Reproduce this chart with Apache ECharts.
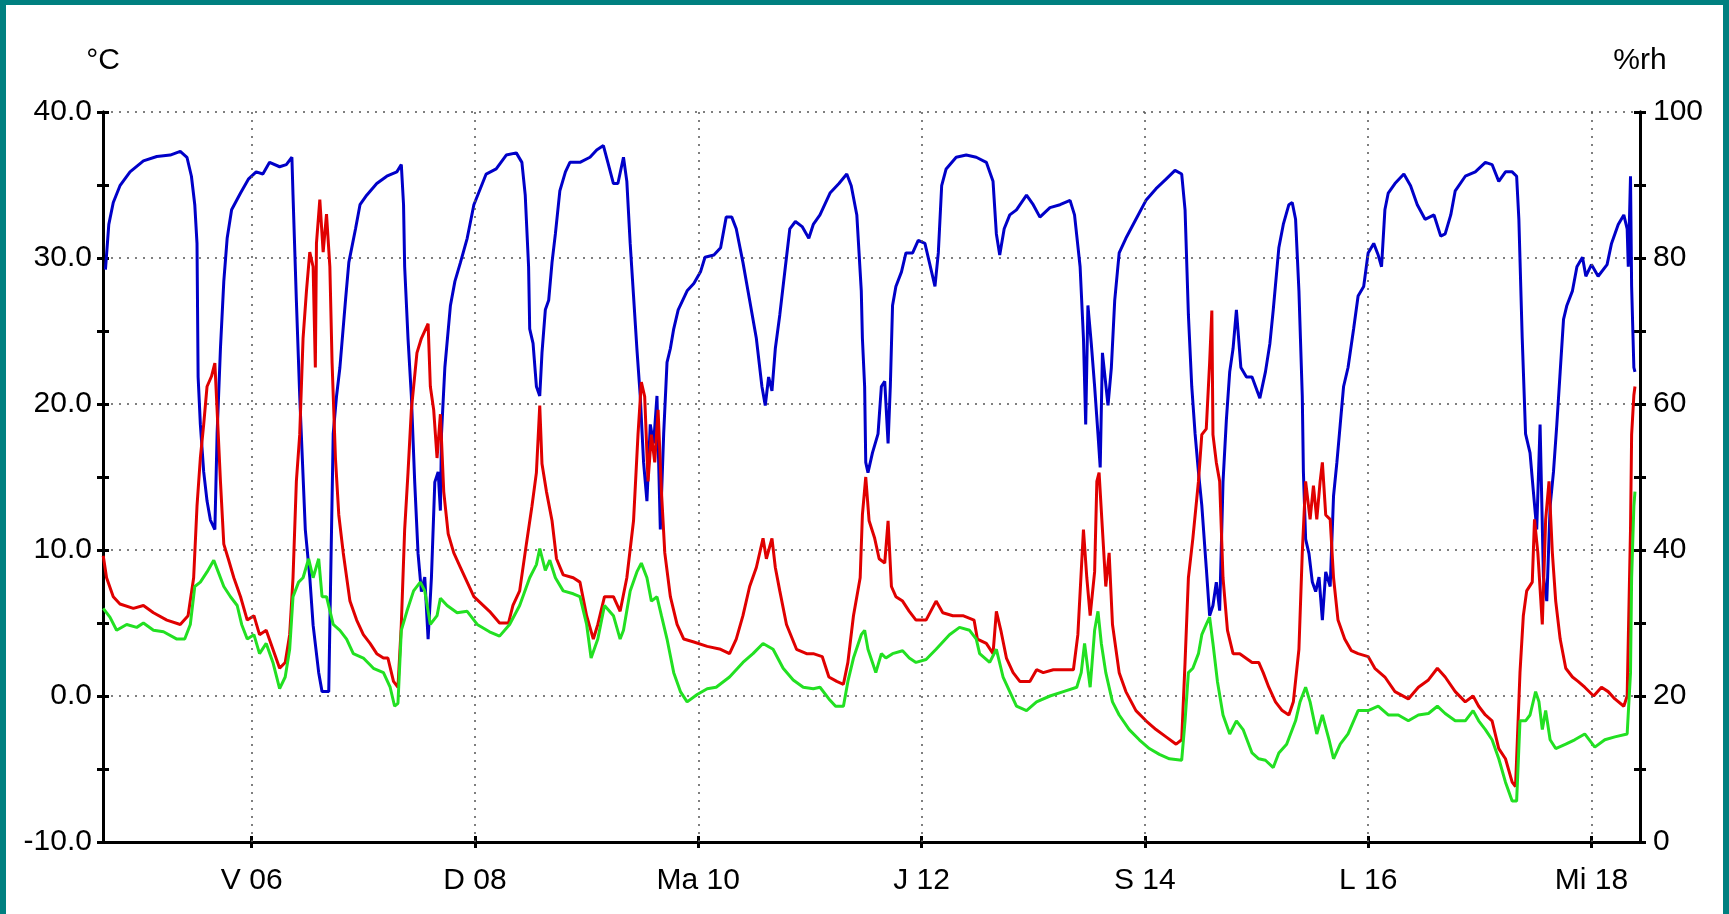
<!DOCTYPE html>
<html>
<head>
<meta charset="utf-8">
<script src="https://cdn.jsdelivr.net/npm/echarts@6/dist/echarts.min.js"></script>
<style>
  html, body { margin: 0; padding: 0; background: #008080; }
  #frame { position: absolute; left: 6px; top: 5px; width: 1717px; height: 909px; background: #ffffff; }
  #chart { position: absolute; left: 0; top: 0; width: 1729px; height: 914px; }
</style>
</head>
<body>
<div id="frame"></div>
<div id="chart"></div>
<script>
// ---- tick labels (x = day of month) ----
const dayTicks = [6, 8, 10, 12, 14, 16, 18];
const dayLabels = ['V 06', 'D 08', 'Ma 10', 'J 12', 'S 14', 'L 16', 'Mi 18'];

// ---- relative humidity (%rh, blue) ----
const rhT = [4.69,4.72,4.76,4.82,4.91,5.03,5.15,5.27,5.36,5.42,5.46,5.49,5.51,5.52,5.54,5.57,5.60,5.63,5.67,5.69,5.72,5.75,5.78,5.82,5.90,5.97,6.04,6.10,6.16,6.25,6.31,6.36,6.37,6.40,6.43,6.48,6.52,6.55,6.60,6.63,6.69,6.70,6.73,6.76,6.79,6.84,6.87,6.93,6.97,7.03,7.12,7.21,7.30,7.34,7.36,7.37,7.40,7.43,7.46,7.49,7.52,7.55,7.58,7.61,7.64,7.67,7.69,7.70,7.73,7.78,7.82,7.87,7.93,7.99,
  8.10,8.19,8.28,8.37,8.42,8.45,8.48,8.49,8.52,8.55,8.58,8.60,8.63,8.66,8.69,8.72,8.76,8.81,8.85,8.94,9.03,9.09,9.15,9.19,9.24,9.28,9.33,9.36,9.39,9.42,9.45,9.48,9.51,9.54,9.57,9.60,9.63,9.66,9.69,9.72,9.75,9.78,9.82,9.90,9.96,10.02,10.06,10.14,10.20,10.25,10.30,10.34,10.40,10.46,10.52,10.57,10.60,10.63,10.66,10.69,10.73,10.78,10.82,10.87,10.93,10.99,11.03,11.09,11.18,11.26,11.33,11.37,11.42,11.46,
  11.47,11.49,11.50,11.52,11.56,11.61,11.64,11.67,11.70,11.72,11.74,11.77,11.82,11.86,11.92,11.97,12.03,12.07,12.12,12.15,12.18,12.22,12.31,12.40,12.49,12.58,12.64,12.67,12.70,12.74,12.79,12.85,12.94,13.00,13.06,13.15,13.24,13.33,13.37,13.42,13.45,13.47,13.49,13.52,13.55,13.58,13.60,13.62,13.67,13.70,13.73,13.77,13.83,13.92,14.01,14.10,14.19,14.27,14.33,14.36,14.39,14.42,14.45,14.48,14.51,14.55,14.58,14.61,14.64,14.67,14.70,14.73,14.76,14.79,14.82,14.86,14.91,
  14.96,15.03,15.08,15.12,15.15,15.20,15.24,15.29,15.32,15.35,15.38,15.41,15.42,15.44,15.47,15.50,15.53,15.56,15.59,15.62,15.66,15.69,15.72,15.75,15.78,15.82,15.87,15.91,15.96,16.00,16.05,16.09,16.12,16.15,16.18,16.24,16.32,16.38,16.44,16.51,16.59,16.65,16.69,16.74,16.78,16.87,16.96,17.05,17.11,17.17,17.23,17.29,17.33,17.35,17.38,17.41,17.45,17.48,17.51,17.54,17.57,17.60,17.63,17.66,17.69,17.72,17.75,17.78,17.83,17.87,17.92,17.95,18.00,18.06,18.14,18.18,18.24,18.29,18.32,18.33,18.35,18.36,18.38,18.39];
const rhV = [78.4,84.6,87.6,89.9,91.8,93.3,93.9,94.1,94.6,93.8,91.2,87.3,82,63.7,57.2,50.7,46.7,44.1,42.8,55.9,67.6,76.8,82.7,86.6,88.9,90.8,91.8,91.5,93.1,92.5,92.8,93.8,88.6,74.2,61.1,42.8,36.3,29.7,23.2,20.6,20.6,29.7,55.9,61.1,65,74.2,79.4,84,87.3,88.6,90.2,91.2,91.8,92.8,87.3,78.8,69,61.1,49.3,39.5,34.3,36.3,27.8,36.3,49.3,50.7,45.4,55.9,65,73.5,76.8,79.4,82.7,87.3,
  91.5,92.2,94.1,94.4,93.1,88.6,78.8,70.3,68.3,62.4,61.1,67,72.9,74.2,79.4,83.3,89.2,91.8,93.1,93.1,93.8,94.8,95.4,93.1,90.2,90.2,93.8,90.5,82,74.8,67.6,61.1,52,46.7,57.2,54.6,61.1,42.8,55.9,65.7,67.6,70.3,72.9,75.5,76.5,78.1,80.1,80.4,81.4,85.6,85.6,84,79.4,74.2,69,62.4,59.8,63.7,61.8,67.6,72.2,78.8,84,85,84.3,82.7,84.6,85.9,88.9,90.2,91.5,89.9,85.9,75.5,
  69,62.4,52,50.6,53.3,55.9,62.4,63.1,54.6,62.4,73.5,76.1,78.1,80.7,80.7,82.4,82,79.4,76.1,80.7,89.9,92.2,93.8,94.1,93.8,93.1,90.5,83.3,80.4,84,85.9,86.6,88.6,87.3,85.6,86.9,87.3,87.9,85.9,78.8,69,57.2,73.5,68.3,62.4,55.9,51.3,67,59.8,65,74.2,80.7,82.7,85.3,87.9,89.5,90.8,92,91.5,86.6,72.2,62.4,55.9,50.7,46.1,37.6,31,32.4,35.6,31.7,49.3,57.8,64.4,67.6,72.9,65,63.7,
  63.7,60.8,64.4,68.3,72.9,81.4,84.6,87.3,87.6,85.3,75.5,61.1,50.7,41.5,39.5,35.6,34.3,36.3,30.4,37,35,47.4,52,57.2,62.4,65,70.3,74.8,76.1,80.7,82,80.4,78.8,86.6,88.9,90.2,91.5,89.9,87.3,85.3,85.9,83,83.3,85.9,89.2,91.2,91.8,93.1,92.8,90.5,91.8,91.8,91.2,85.3,69,55.9,53.3,48,42.8,57.2,36.3,33,46,50.7,57.2,64.4,71.6,73.5,75.5,78.8,80.1,77.5,79.1,77.5,79.1,82,84.6,85.9,84,78.8,91.2,76.1,65,64.4];

// ---- temperature (°C, red) ----
const tempT = [4.67,4.70,4.76,4.82,4.94,5.03,5.12,5.24,5.36,5.43,5.48,5.51,5.54,5.57,5.60,5.64,5.67,5.69,5.72,5.75,5.79,5.84,5.90,5.96,6.02,6.07,6.13,6.19,6.25,6.30,6.34,6.37,6.40,6.43,6.46,6.49,6.52,6.55,6.57,6.58,6.61,6.64,6.67,6.70,6.72,6.75,6.78,6.82,6.88,6.94,7.00,7.06,7.12,7.18,7.22,7.27,7.31,7.34,7.37,7.40,7.43,7.48,7.52,7.58,7.60,7.63,7.66,7.69,7.72,7.76,7.81,7.87,7.93,7.99,
  8.13,8.22,8.30,8.34,8.40,8.46,8.51,8.55,8.58,8.60,8.64,8.69,8.73,8.79,8.88,8.94,9.00,9.06,9.10,9.16,9.24,9.30,9.36,9.42,9.46,9.49,9.52,9.55,9.58,9.61,9.64,9.67,9.70,9.75,9.81,9.87,9.96,10.08,10.20,10.28,10.34,10.40,10.46,10.52,10.58,10.61,10.66,10.69,10.73,10.79,10.88,10.97,11.03,11.11,11.17,11.24,11.30,11.34,11.39,11.45,
  11.47,11.50,11.53,11.58,11.62,11.67,11.70,11.73,11.77,11.83,11.89,11.95,12.04,12.13,12.19,12.28,12.37,12.47,12.50,12.58,12.64,12.67,12.71,12.76,12.82,12.88,12.97,13.03,13.09,13.18,13.36,13.40,13.45,13.48,13.51,13.55,13.57,13.59,13.62,13.65,13.68,13.71,13.77,13.83,13.92,14.01,14.10,14.19,14.28,14.33,14.36,14.39,14.43,14.48,14.51,14.55,14.58,14.60,14.61,14.64,14.67,14.70,14.74,14.79,14.85,
  14.96,15.02,15.06,15.11,15.17,15.23,15.29,15.33,15.38,15.41,15.44,15.48,15.51,15.54,15.57,15.59,15.62,15.66,15.69,15.73,15.79,15.85,15.91,16.00,16.06,16.15,16.24,16.36,16.45,16.54,16.62,16.69,16.78,16.87,16.94,16.99,17.05,17.11,17.17,17.23,17.29,17.32,17.33,17.36,17.39,17.42,17.47,17.49,17.52,17.56,17.59,17.62,17.65,17.68,17.72,17.77,17.83,17.88,17.94,18.02,18.09,18.15,18.21,18.29,18.32,18.35,18.36,18.38,18.39];
const tempV = [9.6,8.1,6.8,6.3,6.0,6.2,5.7,5.2,4.9,5.5,8.1,13,16.3,18.6,21.2,21.9,22.8,19.6,14.7,10.4,9.4,8.1,6.8,5.2,5.5,4.2,4.5,3.2,1.9,2.3,4.2,8.1,14.7,17.9,24.5,27.7,30.4,29.4,22.5,31,34,30.4,33,29.4,22.8,16.3,12.4,9.8,6.5,5.2,4.2,3.6,2.9,2.6,2.6,1,0.6,4.9,11.4,15.3,19.6,23.5,24.5,25.5,21.2,19.6,16.3,19.3,14,11.1,9.8,8.8,7.8,6.8,
  5.8,5.0,5.0,6.2,7.2,10.4,13,15.3,19.9,15.9,14,12,9.4,8.3,8.1,7.8,5.5,3.9,4.9,6.8,6.8,5.8,8.1,12,17.9,21.5,20.5,14.7,17.9,16,19.6,14,9.8,6.8,4.9,3.9,3.7,3.4,3.2,2.9,3.9,5.5,7.5,8.8,10.8,9.4,10.8,8.8,7.2,4.9,3.2,2.9,2.9,2.7,1.3,1,0.8,2.3,5.5,8.1,
  12.4,15,12,10.8,9.4,9.1,12,7.5,6.8,6.5,5.8,5.2,5.2,6.5,5.7,5.5,5.5,5.2,3.9,3.6,2.9,5.8,4.5,2.6,1.6,1,1,1.8,1.6,1.8,1.8,4.2,11.4,8.1,5.5,8.5,14.7,15.3,11.4,7.5,9.8,4.9,1.6,0.3,-1,-1.7,-2.3,-2.8,-3.3,-3,2.3,8.1,10.8,14.7,17.9,18.3,22.8,26.4,17.9,16,14.7,8.1,4.5,2.9,2.9,
  2.3,2.3,1.6,0.6,-0.4,-1,-1.3,-0.4,3.2,9.8,14.7,12.1,14.4,12.1,14.7,16,12.4,12.1,8.1,5.2,3.9,3.1,2.9,2.7,1.9,1.3,0.3,-0.2,0.6,1.1,1.9,1.3,0.3,-0.4,0,-0.7,-1.3,-1.7,-3.6,-4.3,-5.9,-6.2,-4.3,1.6,5.5,7.2,7.8,12.1,9.8,4.9,12.1,14.7,9.8,6.5,3.9,1.9,1.3,1,0.6,0,0.6,0.3,-0.2,-0.7,0,11.4,17.9,20.6,21.2];

// ---- dew point (°C, green) ----
const dewT = [4.67,4.73,4.79,4.88,4.97,5.03,5.12,5.21,5.33,5.40,5.45,5.49,5.54,5.60,5.66,5.70,5.75,5.81,5.87,5.91,5.96,6.02,6.07,6.13,6.19,6.25,6.30,6.34,6.37,6.42,6.46,6.51,6.55,6.60,6.63,6.67,6.73,6.79,6.85,6.91,7.00,7.09,7.18,7.24,7.28,7.31,7.34,7.39,7.45,7.51,7.55,7.60,7.66,7.69,7.75,7.84,7.93,8.02,
  8.13,8.22,8.31,8.40,8.49,8.55,8.58,8.63,8.67,8.72,8.79,8.88,8.94,9.00,9.04,9.10,9.16,9.24,9.30,9.33,9.39,9.45,9.49,9.54,9.58,9.63,9.67,9.72,9.78,9.84,9.90,9.99,10.08,10.16,10.28,10.40,10.49,10.58,10.67,10.76,10.85,10.94,11.03,11.09,11.17,11.23,11.30,11.34,11.39,11.46,
  11.49,11.52,11.56,11.59,11.64,11.68,11.74,11.83,11.89,11.95,12.04,12.13,12.25,12.34,12.43,12.49,12.52,12.61,12.67,12.73,12.79,12.85,12.94,13.03,13.15,13.27,13.39,13.43,13.46,13.51,13.55,13.58,13.61,13.65,13.71,13.77,13.86,13.95,14.04,14.13,14.22,14.33,14.36,14.39,14.43,14.48,14.51,14.55,14.58,14.61,14.65,14.70,14.76,14.82,14.88,
  14.96,15.02,15.08,15.15,15.20,15.27,15.35,15.39,15.44,15.48,15.54,15.59,15.65,15.69,15.75,15.82,15.91,16.00,16.09,16.18,16.27,16.36,16.45,16.54,16.62,16.69,16.78,16.87,16.94,16.99,17.05,17.11,17.17,17.23,17.29,17.33,17.36,17.41,17.45,17.50,17.53,17.56,17.59,17.63,17.68,17.77,17.85,17.94,18.03,18.12,18.21,18.32,18.35,18.36,18.38,18.39];
const dewV = [6.0,5.4,4.5,4.9,4.7,5.0,4.5,4.4,3.9,3.9,4.9,7.5,7.8,8.5,9.3,8.5,7.5,6.8,6.2,4.9,3.9,4.2,2.9,3.6,2.3,0.5,1.3,3.2,6.8,7.8,8.1,9.4,8.1,9.4,6.8,6.8,4.9,4.5,3.9,2.9,2.6,1.9,1.6,0.6,-0.7,-0.5,4.5,5.8,7.2,7.8,7.2,4.9,5.5,6.7,6.2,5.7,5.8,4.9,
  4.4,4.1,4.9,6.2,8.1,9.0,10.1,8.6,9.3,8.1,7.2,7,6.8,4.9,2.6,3.9,6.2,5.5,3.9,4.5,7.2,8.5,9.1,8.1,6.5,6.8,5.5,3.9,1.6,0.3,-0.4,0.1,0.5,0.6,1.3,2.3,2.9,3.6,3.2,1.9,1.1,0.6,0.5,0.6,-0.2,-0.7,-0.7,1,2.6,4.2,
  4.5,3.2,2.3,1.6,2.9,2.6,2.9,3.1,2.6,2.3,2.5,3.2,4.2,4.7,4.5,3.9,2.9,2.3,3.2,1.3,0.3,-0.7,-1,-0.4,0,0.3,0.6,1.6,3.6,0.6,4.5,5.8,3.6,1.6,-0.4,-1.3,-2.3,-3,-3.6,-4,-4.3,-4.4,-1.7,1.6,1.9,2.9,4.2,4.9,5.4,3.6,1,-1.3,-2.6,-1.7,-2.3,
  -3.9,-4.3,-4.4,-4.9,-3.9,-3.3,-1.7,-0.4,0.6,-0.4,-2.6,-1.3,-3,-4.3,-3.3,-2.6,-1,-1,-0.7,-1.3,-1.3,-1.7,-1.3,-1.2,-0.7,-1.2,-1.7,-1.7,-1,-1.7,-2.3,-3,-4.3,-5.9,-7.2,-7.2,-1.7,-1.7,-1.3,0.3,-0.4,-2.3,-1,-3,-3.6,-3.3,-3,-2.6,-3.5,-3,-2.8,-2.6,1.6,8.1,13,14];

const pairs = (t, v) => t.map((x, i) => [x, v[i]]);

const FONT = 'Liberation Sans, Arial, sans-serif';
const AXIS_COLOR = '#000000';
const dotted = { type: [2, 6], color: '#555555', width: 1.5 };

function yAxisBase(pos, min, max, inside, withLabels, fmt) {
  return {
    type: 'value', position: pos, min: min, max: max, interval: (max - min) / 5,
    axisLine: { show: true, onZero: false, lineStyle: { color: AXIS_COLOR, width: 3 } },
    axisTick: { show: true, inside: inside, length: 6, lineStyle: { color: AXIS_COLOR, width: 3 } },
    minorTick: { show: true, splitNumber: 2, length: 6, lineStyle: { color: AXIS_COLOR, width: 3 } },
    axisLabel: { show: withLabels, color: '#000', fontFamily: FONT, fontSize: 30, margin: 11, formatter: fmt },
    splitLine: { show: false }
  };
}

const nameStyle = { color: '#000', fontFamily: FONT, fontSize: 30, align: 'center' };

const yLeft = yAxisBase('left', -10, 40, false, true, v => v.toFixed(1));
yLeft.name = '°C';
yLeft.nameLocation = 'end';
yLeft.nameGap = 36;
yLeft.nameTextStyle = nameStyle;
yLeft.splitLine = { show: true, lineStyle: dotted };

const yRight = yAxisBase('right', 0, 100, false, true, v => String(v));
yRight.axisLabel.margin = 13;
yRight.name = '%rh';
yRight.nameLocation = 'end';
yRight.nameGap = 36;
yRight.nameTextStyle = nameStyle;

const yLeftIn = yAxisBase('left', -10, 40, true, false, null);
const yRightIn = yAxisBase('right', 0, 100, true, false, null);

function xAxisBase(inside, withLabels) {
  return {
    type: 'value', position: 'bottom', min: 4.668, max: 18.435,
    axisLine: { show: true, onZero: false, lineStyle: { color: AXIS_COLOR, width: 3 } },
    axisTick: { show: true, inside: inside, length: 6, customValues: dayTicks, lineStyle: { color: AXIS_COLOR, width: 3 } },
    axisLabel: {
      show: withLabels, customValues: dayTicks, color: '#000', fontFamily: FONT, fontSize: 30, margin: 24,
      formatter: v => { const i = dayTicks.indexOf(Math.round(v)); return i >= 0 ? dayLabels[i] : ''; }
    },
    splitLine: { show: false }
  };
}

const chart = echarts.init(document.getElementById('chart'), null, { renderer: 'canvas' });
chart.setOption({
  backgroundColor: 'transparent',
  animation: false,
  grid: { left: 103, right: 89, top: 112, bottom: 72, containLabel: false },
  xAxis: [xAxisBase(false, true), xAxisBase(true, false)],
  yAxis: [yLeft, yRight, yLeftIn, yRightIn],
  series: [
    {
      type: 'line', name: 'grid', data: [], z: 1, silent: true,
      markLine: {
        silent: true, symbol: ['none', 'none'], label: { show: false },
        lineStyle: dotted,
        data: dayTicks.map(d => ({ xAxis: d }))
      }
    },
    {
      type: 'line', name: '%rh', yAxisIndex: 1, data: pairs(rhT, rhV), showSymbol: false,
      lineStyle: { color: '#0000c8', width: 3 }, itemStyle: { color: '#0000c8' }, z: 3
    },
    {
      type: 'line', name: 'T', yAxisIndex: 0, data: pairs(tempT, tempV), showSymbol: false,
      lineStyle: { color: '#e00000', width: 3 }, itemStyle: { color: '#e00000' }, z: 4
    },
    {
      type: 'line', name: 'Td', yAxisIndex: 0, data: pairs(dewT, dewV), showSymbol: false,
      lineStyle: { color: '#22e022', width: 3 }, itemStyle: { color: '#22e022' }, z: 5
    }
  ]
});
</script>
</body>
</html>
